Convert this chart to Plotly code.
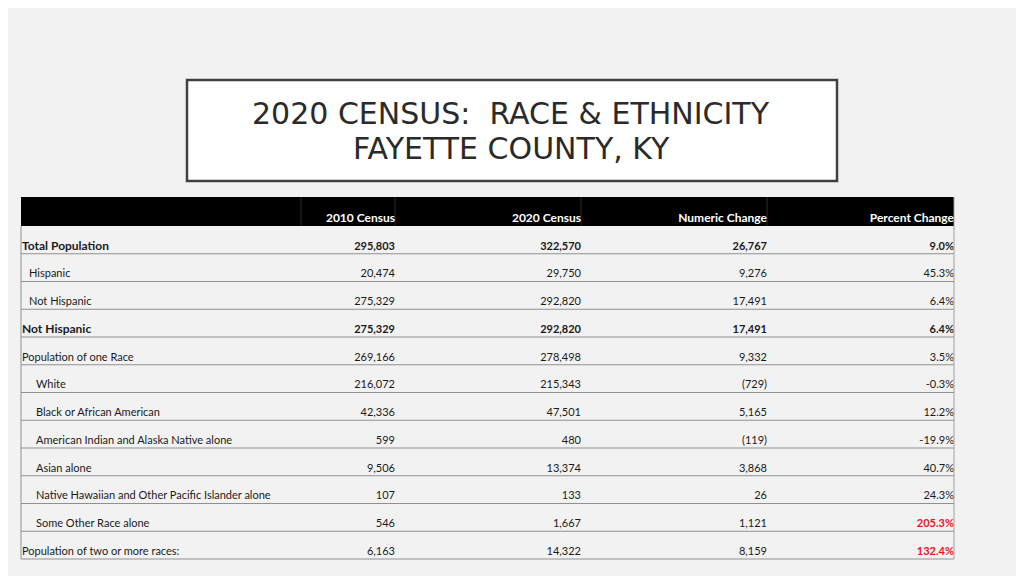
import plotly.graph_objects as go

# --- data -------------------------------------------------------------
title_lines = ["2020 CENSUS:  RACE &amp; ETHNICITY", "FAYETTE COUNTY, KY"]
headers = ["", "2010 Census", "2020 Census", "Numeric Change", "Percent Change"]
labels = [
    "Total Population",
    "Hispanic",
    "Not Hispanic",
    "Not Hispanic",
    "Population of one Race",
    "White",
    "Black or African American",
    "American Indian and Alaska Native alone",
    "Asian alone",
    "Native Hawaiian and Other Pacific Islander alone",
    "Some Other Race alone",
    "Population of two or more races:",
]
census_2010 = [295803, 20474, 275329, 275329, 269166, 216072, 42336, 599, 9506, 107, 546, 6163]
census_2020 = [322570, 29750, 292820, 292820, 278498, 215343, 47501, 480, 13374, 133, 1667, 14322]
numeric_change = [26767, 9276, 17491, 17491, 9332, -729, 5165, -119, 3868, 26, 1121, 8159]
percent_change = [9.0, 45.3, 6.4, 6.4, 3.5, -0.3, 12.2, -19.9, 40.7, 24.3, 205.3, 132.4]
indent = [0, 1, 1, 0, 0, 2, 2, 2, 2, 2, 2, 0]
bold_rows = [True, False, False, True, False, False, False, False, False, False, False, False]

# --- layout constants (window pixel units) ----------------------------
FONT = "Lato"
TXT = "#1a1a1a"
BG = "#f2f2f2"
LEFT, RIGHT = 21, 954
COL_RIGHT = [301, 395, 581, 767, 954]
HEAD_TOP, HEAD_BOT = 197, 226
ROW_H = (559 - HEAD_BOT) / len(labels)
PAGE_OFF = 8  # browser body margin


def fmt_num(v):
    return f"({abs(v):,})" if v < 0 else f"{v:,}"


def b(s, on):
    return f"<b>{s}</b>" if on else s


row_y = [HEAD_BOT + ROW_H * (i + 1) - 7 for i in range(len(labels))]

fig = go.Figure()

# label column
fig.add_trace(go.Scatter(
    x=[LEFT + 1 + 7 * lv for lv in indent],
    y=row_y,
    mode="text",
    text=[b(l, bo) for l, bo in zip(labels, bold_rows)],
    textposition="middle right",
    textfont=dict(family=FONT, size=[12 if bo else 11 for bo in bold_rows], color=TXT),
    hoverinfo="skip",
))

# numeric columns
cols = [
    [fmt_num(v) for v in census_2010],
    [fmt_num(v) for v in census_2020],
    [fmt_num(v) for v in numeric_change],
    [f"{v:.1f}%" for v in percent_change],
]
for ci, col in enumerate(cols):
    colors = [TXT] * len(col)
    bolds = list(bold_rows)
    if ci == 3:
        colors = ["#e8141b" if v > 100 else TXT for v in percent_change]
        bolds = [bo or v > 100 for bo, v in zip(bold_rows, percent_change)]
    fig.add_trace(go.Scatter(
        x=[COL_RIGHT[ci + 1]] * len(col),
        y=row_y,
        mode="text",
        text=[b(t, bo) for t, bo in zip(col, bolds)],
        textposition="middle left",
        textfont=dict(family=FONT, size=11, color=colors),
        hoverinfo="skip",
    ))

# header text
fig.add_trace(go.Scatter(
    x=COL_RIGHT[1:],
    y=[HEAD_BOT - 7] * 4,
    mode="text",
    text=[f"<b>{h}</b>" for h in headers[1:]],
    textposition="middle left",
    textfont=dict(family=FONT, size=12, color="white"),
    hoverinfo="skip",
))

shapes = []
# header band
shapes.append(dict(type="rect", x0=LEFT, x1=RIGHT, y0=HEAD_TOP, y1=HEAD_BOT,
                   fillcolor="black", line=dict(width=0), layer="below"))
for xc in COL_RIGHT[:-1]:
    shapes.append(dict(type="line", x0=xc, x1=xc, y0=HEAD_TOP, y1=HEAD_BOT,
                       line=dict(color="#2a2a2a", width=1), layer="below"))
# row separators
for i in range(len(labels)):
    yy = HEAD_BOT + ROW_H * (i + 1)
    shapes.append(dict(type="line", x0=LEFT, x1=RIGHT, y0=yy, y1=yy,
                       line=dict(color="#909090", width=1)))
# outer verticals
shapes.append(dict(type="line", x0=LEFT, x1=LEFT, y0=HEAD_BOT, y1=559,
                   line=dict(color="#909090", width=1)))
shapes.append(dict(type="line", x0=RIGHT, x1=RIGHT, y0=HEAD_TOP, y1=559,
                   line=dict(color="#a0a0a0", width=1)))
# title box
shapes.append(dict(type="rect", x0=187, x1=837, y0=80, y1=181,
                   fillcolor="white", line=dict(color="#404040", width=2.5)))

# title, one annotation per line for tighter leading
title_ann = [
    dict(x=511, y=ty, xref="x", yref="y", text=t, showarrow=False,
         font=dict(family="DejaVu Sans", size=30, color="#2a2a2a"))
    for t, ty in zip(title_lines, [113, 148])
]

fig.update_layout(
    width=1024 - PAGE_OFF,
    height=576 - PAGE_OFF,
    margin=dict(l=0, r=0, t=0, b=0),
    paper_bgcolor=BG,
    plot_bgcolor=BG,
    showlegend=False,
    xaxis=dict(range=[PAGE_OFF, 1024], visible=False, fixedrange=True),
    yaxis=dict(range=[576, PAGE_OFF], visible=False, fixedrange=True),
    shapes=shapes,
    annotations=title_ann,
)

fig.write_html("out.html")
